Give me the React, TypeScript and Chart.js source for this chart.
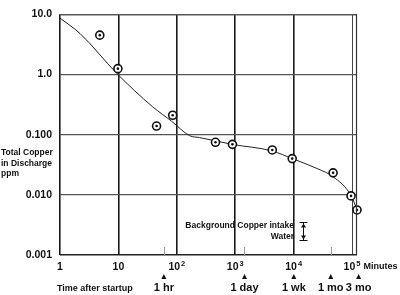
import React, { useEffect, useRef } from "react";
import { Chart, registerables } from "chart.js";

Chart.register(...registerables);

const FF = "'Liberation Sans', Arial, Helvetica, sans-serif";

// Axis ticks
const xTickValues = [1, 10, 100, 1000, 10000, 100000];
const xTickBase = ["1", "10", "10", "10", "10", "10"];
const xTickExp = ["", "", "2", "3", "4", "5"];
const yTickValues = [0.001, 0.01, 0.1, 1, 10];
const yTickLabels = ["0.001", "0.010", "0.100", "1.0", "10.0"];

// Measured samples (minutes, ppm)
const sampleTimes = [4.8, 9.8, 45, 85, 459, 896, 4310, 9460, 47400, 96100, 121600];
const sampleCopper = [4.5, 1.25, 0.139, 0.21, 0.0746, 0.069, 0.0557, 0.04, 0.0232, 0.0096, 0.0056];

// Fitted curve (minutes, ppm)
const curveTimes = [1, 2.2, 9.4, 38.6, 81.5, 166, 245, 890, 4300, 9460, 26000, 47400, 96000, 122000];
const curveCopper = [8.65, 4.8, 1.04, 0.29, 0.167, 0.096, 0.0895, 0.069, 0.0535, 0.04, 0.027, 0.02, 0.0098, 0.0056];

// Time markers below axis
const markerTimes = [60, 1440, 10080, 43200, 129600];
const markerLabels = ["1 hr", "1 day", "1 wk", "1 mo", "3 mo"];
const minorTickTimes = [60, 1440, 43200];

const yTitleLines = ["Total Copper", "in Discharge", "ppm"];
const backgroundLines = ["Background Copper intake", "Water"];
const xUnit = "Minutes";
const xTitle = "Time after startup";

const X_MAX = 121600;

const overlayPlugin = {
  id: "overlay",
  afterDraw(chart: any) {
    const ctx = chart.ctx as CanvasRenderingContext2D;
    const ca = chart.chartArea;
    const xs = chart.scales.x;
    ctx.save();
    // frame top / right
    ctx.strokeStyle = "#555";
    ctx.lineWidth = 1;
    ctx.beginPath();
    ctx.moveTo(ca.left, ca.top + 0.5);
    ctx.lineTo(ca.right, ca.top + 0.5);
    ctx.stroke();
    ctx.strokeStyle = "#333";
    ctx.lineWidth = 1.2;
    ctx.beginPath();
    ctx.moveTo(ca.right - 0.5, ca.top);
    ctx.lineTo(ca.right - 0.5, ca.bottom);
    ctx.stroke();

    // minor ticks at bottom
    ctx.strokeStyle = "#999";
    ctx.lineWidth = 1;
    minorTickTimes.forEach((t) => {
      const px = Math.round(xs.getPixelForValue(t)) + 0.5;
      ctx.beginPath();
      ctx.moveTo(px, ca.bottom - 8);
      ctx.lineTo(px, ca.bottom);
      ctx.stroke();
    });

    ctx.fillStyle = "#111";
    // x tick labels with superscripts
    const ty = 267;
    xTickValues.forEach((v, i) => {
      const cx = xs.getPixelForValue(v);
      const base = xTickBase[i];
      const exp = xTickExp[i];
      ctx.font = `bold 10.5px ${FF}`;
      const wb = ctx.measureText(base).width;
      ctx.font = `bold 7.5px ${FF}`;
      const we = exp ? ctx.measureText(exp).width + 1 : 0;
      const x0 = cx - (wb + we) / 2;
      ctx.textAlign = "left";
      ctx.textBaseline = "middle";
      ctx.font = `bold 10.5px ${FF}`;
      ctx.fillText(base, x0, ty);
      if (exp) {
        ctx.font = `bold 7.5px ${FF}`;
        ctx.fillText(exp, x0 + wb + 1, ty - 3);
      }
      if (i === xTickValues.length - 1) {
        ctx.font = `bold 9px ${FF}`;
        ctx.fillText(xUnit, x0 + wb + we + 3, ty);
      }
    });

    // time markers
    markerTimes.forEach((t, i) => {
      const cx = xs.getPixelForValue(t);
      ctx.beginPath();
      ctx.moveTo(cx, 274);
      ctx.lineTo(cx + 2.5, 279);
      ctx.lineTo(cx - 2.5, 279);
      ctx.closePath();
      ctx.fill();
      ctx.font = `bold 11px ${FF}`;
      ctx.textAlign = "center";
      ctx.textBaseline = "middle";
      ctx.fillText(markerLabels[i], cx, 288);
    });

    ctx.font = `bold 9px ${FF}`;
    ctx.textAlign = "left";
    ctx.fillText(xTitle, 57, 289);

    // y title
    ctx.font = `bold 8.5px ${FF}`;
    ctx.textAlign = "left";
    yTitleLines.forEach((l, i) => {
      ctx.fillText(l, 1, 153 + i * 10.5);
    });

    // background annotation
    ctx.font = `bold 8.5px ${FF}`;
    ctx.textAlign = "right";
    ctx.fillText(backgroundLines[0], 294, 226);
    ctx.fillText(backgroundLines[1], 294, 237);

    // range marker
    const mx = 303.5;
    const t0 = 222.5;
    const t1 = 240.5;
    ctx.strokeStyle = "#111";
    ctx.lineWidth = 1;
    ctx.beginPath();
    ctx.moveTo(mx - 4, t0);
    ctx.lineTo(mx + 4, t0);
    ctx.moveTo(mx - 4, t1);
    ctx.lineTo(mx + 4, t1);
    ctx.moveTo(mx, t0);
    ctx.lineTo(mx, t1);
    ctx.stroke();
    ctx.beginPath();
    ctx.moveTo(mx, t0 + 1);
    ctx.lineTo(mx + 2.5, t0 + 5);
    ctx.lineTo(mx - 2.5, t0 + 5);
    ctx.closePath();
    ctx.moveTo(mx, t1 - 1);
    ctx.lineTo(mx + 2.5, t1 - 5);
    ctx.lineTo(mx - 2.5, t1 - 5);
    ctx.closePath();
    ctx.fill();

    ctx.restore();
  },
};

export default function App() {
  const ref = useRef<HTMLCanvasElement | null>(null);
  useEffect(() => {
    if (!ref.current) return;
    const samples = sampleTimes.map((t, i) => ({ x: t, y: sampleCopper[i] }));
    const curve = curveTimes.map((t, i) => ({ x: t, y: curveCopper[i] }));
    const chart = new Chart(ref.current, {
      type: "scatter",
      data: {
        datasets: [
          {
            data: samples,
            pointRadius: 1.3,
            pointBackgroundColor: "#111",
            pointBorderWidth: 0,
            clip: false,
          } as any,
          {
            data: samples,
            pointRadius: 4,
            pointBackgroundColor: "#fff",
            pointBorderColor: "#111",
            pointBorderWidth: 1.6,
            clip: false,
          } as any,
          {
            data: curve,
            showLine: true,
            pointRadius: 0,
            borderColor: "#222",
            borderWidth: 1,
            cubicInterpolationMode: "monotone",
            clip: false,
          } as any,
        ],
      },
      options: {
        animation: false,
        responsive: false,
        events: [],
        layout: { padding: { top: 3, right: 43, left: 0, bottom: 0 } },
        plugins: { legend: { display: false }, tooltip: { enabled: false } },
        scales: {
          x: {
            type: "logarithmic",
            min: 1,
            max: X_MAX,
            afterBuildTicks: (s: any) => {
              s.ticks = xTickValues.map((v) => ({ value: v }));
            },
            afterFit: (s: any) => {
              s.height = 40;
            },
            ticks: { display: false },
            border: { display: false },
            grid: {
              drawTicks: false,
              color: (c: any) => (c.tick && c.tick.value === 100000 ? "#444" : "#1a1a1a"),
              lineWidth: (c: any) => (c.tick && c.tick.value === 100000 ? 1 : 1.6),
            },
          },
          y: {
            type: "logarithmic",
            min: 0.001,
            max: 10,
            afterBuildTicks: (s: any) => {
              s.ticks = yTickValues.map((v) => ({ value: v }));
            },
            afterFit: (s: any) => {
              s.width = 60;
            },
            ticks: {
              padding: 8,
              color: "#111",
              font: { family: FF, size: 10.5, weight: "bold" },
              callback: (v: any) => {
                const i = yTickValues.findIndex((t) => Math.abs(Math.log10(t) - Math.log10(v)) < 1e-6);
                return i >= 0 ? yTickLabels[i] : "";
              },
            },
            border: { display: false },
            grid: {
              drawTicks: false,
              color: (c: any) => (c.tick && c.tick.value === 0.001 ? "#222" : "#555"),
              lineWidth: (c: any) => (c.tick && c.tick.value === 0.001 ? 1.5 : 1.2),
            },
          },
        },
      },
      plugins: [overlayPlugin],
    } as any);
    return () => chart.destroy();
  }, []);
  return (
    <div style={{ position: "absolute", left: 0, top: 0, width: 400, height: 295, background: "#fff" }}>
      <canvas ref={ref} width={400} height={295} style={{ display: "block", width: 400, height: 295 }} />
    </div>
  );
}
